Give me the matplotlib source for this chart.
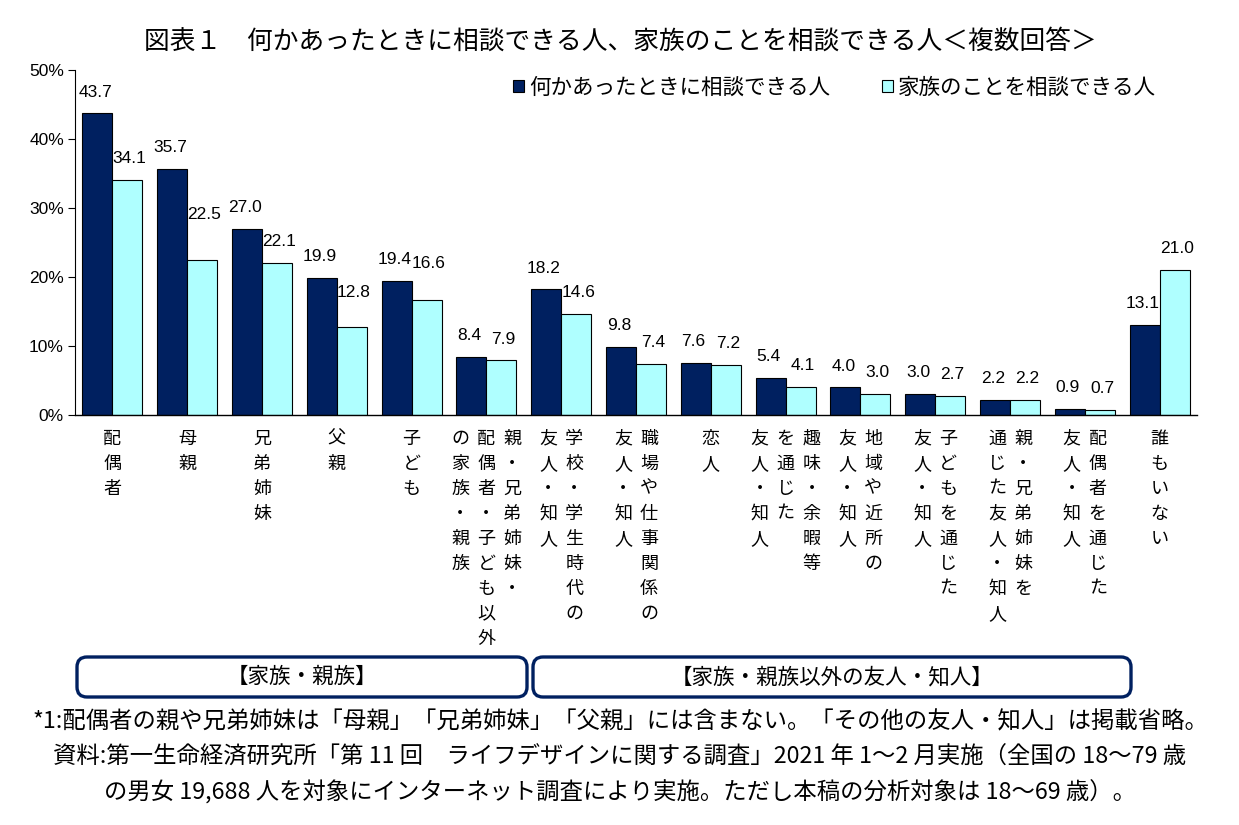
import numpy as np
import matplotlib
matplotlib.use('Agg')
import matplotlib.pyplot as plt
from matplotlib.patches import FancyBboxPatch
from matplotlib.transforms import IdentityTransform
from matplotlib.ticker import FuncFormatter

plt.rcParams['font.family'] = ['Noto Sans CJK JP', 'DejaVu Sans']

# ---------------- data ----------------
title = '図表１　何かあったときに相談できる人、家族のことを相談できる人＜複数回答＞'
series1_name = '何かあったときに相談できる人'
series2_name = '家族のことを相談できる人'

# vertical category labels, columns in reading order (right-most column first)
category_columns = [
    ['配偶者'],
    ['母親'],
    ['兄弟姉妹'],
    ['父親'],
    ['子ども'],
    ['親・兄弟姉妹・', '配偶者・子ども以外', 'の家族・親族'],
    ['学校・学生時代の', '友人・知人'],
    ['職場や仕事関係の', '友人・知人'],
    ['恋人'],
    ['趣味・余暇等', 'を通じた', '友人・知人'],
    ['地域や近所の', '友人・知人'],
    ['子どもを通じた', '友人・知人'],
    ['親・兄弟姉妹を', '通じた友人・知人'],
    ['配偶者を通じた', '友人・知人'],
    ['誰もいない'],
]
values1 = [43.7, 35.7, 27.0, 19.9, 19.4, 8.4, 18.2, 9.8, 7.6, 5.4, 4.0, 3.0, 2.2, 0.9, 13.1]
values2 = [34.1, 22.5, 22.1, 12.8, 16.6, 7.9, 14.6, 7.4, 7.2, 4.1, 3.0, 2.7, 2.2, 0.7, 21.0]
y_ticks = [0, 10, 20, 30, 40, 50]
group_labels = ['【家族・親族】', '【家族・親族以外の友人・知人】']
footnotes = [
    '*1:配偶者の親や兄弟姉妹は「母親」「兄弟姉妹」「父親」には含まない。「その他の友人・知人」は掲載省略。',
    '資料:第一生命経済研究所「第 11 回　ライフデザインに関する調査」2021 年 1～2 月実施（全国の 18～79 歳',
    'の男女 19,688 人を対象にインターネット調査により実施。ただし本稿の分析対象は 18～69 歳）。',
]

# ---------------- style ----------------
DARK = '#002060'
LIGHT = '#AFFFFF'
NUM_FONT = ['Liberation Sans', 'Noto Sans CJK JP']
LABEL_PAD = 10                       # points above bar
LABEL_DX = 1.6                       # points: dark labels left, light labels right
EXTRA_PAD2 = {1: 17, 3: 9, 4: 11}    # extra lift for some light-bar labels (points)

W, H = 1239, 825
fig = plt.figure(figsize=(W / 100, H / 100), dpi=100)
ax = fig.add_axes([75 / W, 1 - 415 / H, 1122 / W, 345 / H])

x = np.arange(len(values1))
bw = 0.4
b1 = ax.bar(x - bw / 2, values1, bw, color=DARK, edgecolor='black', linewidth=0.8,
            label=series1_name)
b2 = ax.bar(x + bw / 2, values2, bw, color=LIGHT, edgecolor='black', linewidth=0.8,
            label=series2_name)

ax.set_xlim(-0.5, len(x) - 0.5)
ax.set_ylim(0, 50)
ax.set_yticks(y_ticks)
ax.yaxis.set_major_formatter(FuncFormatter(lambda v, p: f'{v:.0f}%'))
for lab in ax.get_yticklabels():
    lab.set_family(NUM_FONT)
    lab.set_fontsize(12.5)
ax.tick_params(axis='y', direction='out', length=5, width=0.8, pad=3)
ax.tick_params(axis='x', bottom=False, labelbottom=False)
ax.spines['top'].set_visible(False)
ax.spines['right'].set_visible(False)
ax.spines['left'].set_linewidth(0.8)
ax.spines['bottom'].set_linewidth(1.0)

for rect, v in zip(b1, values1):
    ax.annotate(f'{v:.1f}', xy=(rect.get_x() + rect.get_width() / 2, rect.get_height()),
                xytext=(-LABEL_DX, LABEL_PAD), textcoords='offset points',
                ha='center', va='bottom', fontsize=12.5, family=NUM_FONT)
for i, (rect, v) in enumerate(zip(b2, values2)):
    ax.annotate(f'{v:.1f}', xy=(rect.get_x() + rect.get_width() / 2, rect.get_height()),
                xytext=(LABEL_DX, LABEL_PAD + EXTRA_PAD2.get(i, 0)), textcoords='offset points',
                ha='center', va='bottom', fontsize=12.5, family=NUM_FONT)

# vertical category labels
colsp = 18.7   # points between columns
pitch = 18.0   # points between characters
first = 17.0   # points from axis to first char centre
for i, cols in enumerate(category_columns):
    n = len(cols)
    for j, col in enumerate(cols):
        dx = ((n - 1) / 2 - j) * colsp
        for k, ch in enumerate(col):
            ax.annotate(ch, xy=(i, 0), xycoords=('data', 'axes fraction'),
                        xytext=(dx, -(first + k * pitch)), textcoords='offset points',
                        ha='center', va='center', fontsize=13)

# legend
leg = ax.legend(handles=[b1, b2], loc='center left',
                bbox_to_anchor=(513 / W, 1 - 88 / H), bbox_transform=fig.transFigure,
                ncol=2, frameon=False, fontsize=15.5, handlelength=0.5, handleheight=0.5,
                handletextpad=0.25, columnspacing=2.4, borderpad=0, borderaxespad=0)

# title
fig.text(620 / W, 1 - 42 / H, title, ha='center', va='center', fontsize=18.5)

# group boxes
boxes = [(77, 527), (533, 1131)]
for (x0, x1), gl in zip(boxes, group_labels):
    patch = FancyBboxPatch((x0, H - 697), x1 - x0, 40,
                           boxstyle='round,pad=0,rounding_size=10',
                           transform=IdentityTransform(), facecolor='white',
                           edgecolor=DARK, linewidth=2.4)
    fig.add_artist(patch)
    fig.text((x0 + x1) / 2 / W, 1 - 677 / H, gl, ha='center', va='center', fontsize=15.5)

# footnotes
for yy, ft in zip((722, 757, 792), footnotes):
    fig.text(620 / W, 1 - yy / H, ft, ha='center', va='center', fontsize=16.8)

fig.savefig('out.png', dpi=100, facecolor='white')
